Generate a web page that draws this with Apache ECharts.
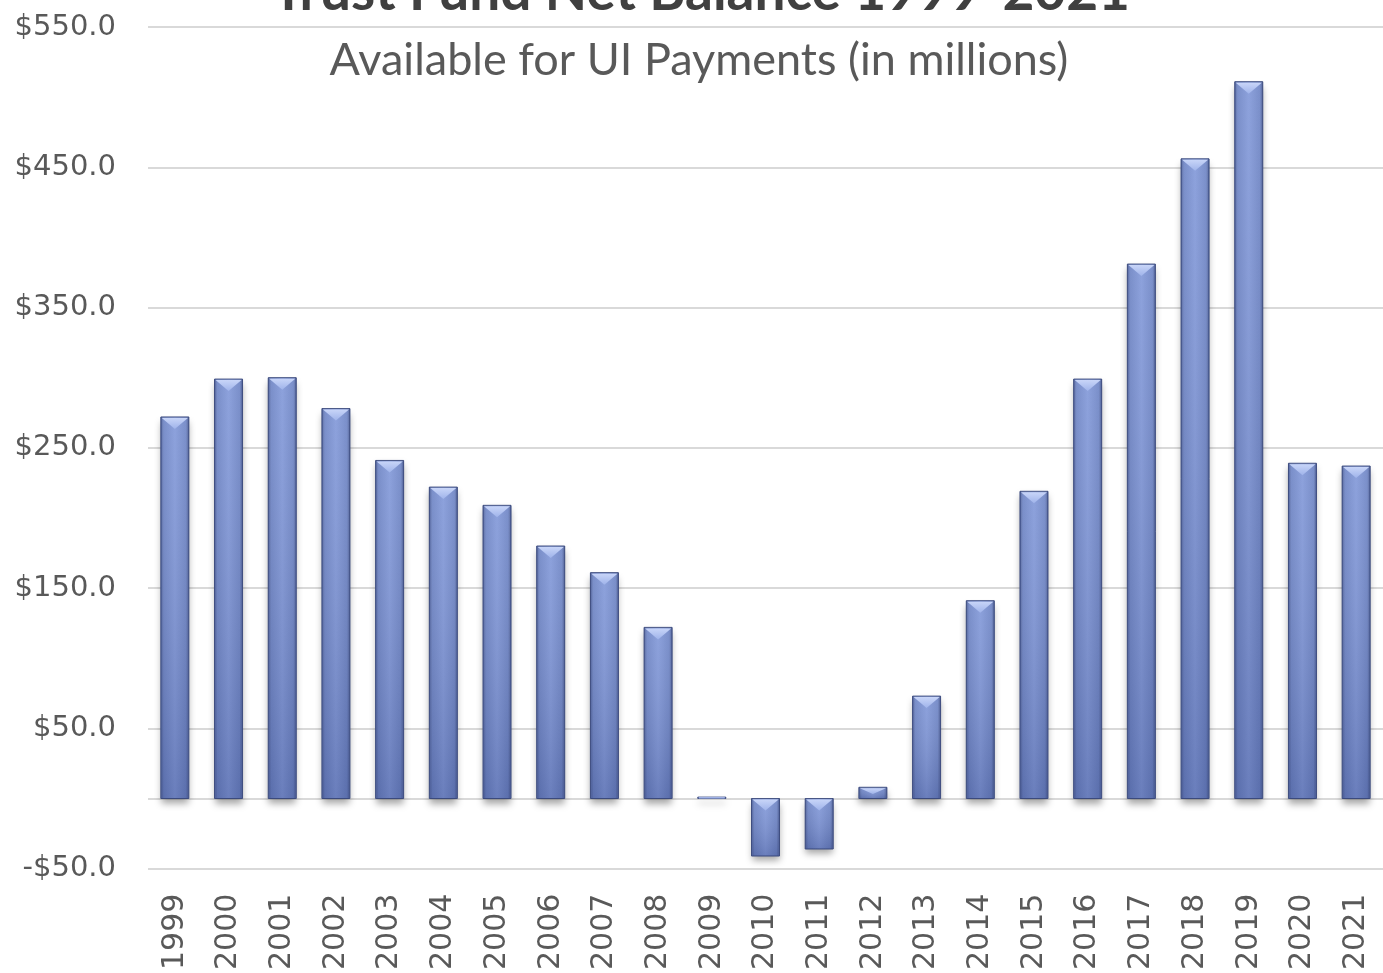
<!DOCTYPE html>
<html><head><meta charset="utf-8">
<script src="https://cdn.jsdelivr.net/npm/echarts@6/dist/echarts.min.js"></script>
<style>html,body{margin:0;padding:0;background:#fff}#c{width:1383px;height:973px}</style>
</head><body><div id="c"></div>
<script>
const titleText = "Trust Fund Net Balance 1999-2021";
const subtitleText = "Available for UI Payments (in millions)";
const years = ["1999","2000","2001","2002","2003","2004","2005","2006","2007","2008","2009","2010","2011","2012","2013","2014","2015","2016","2017","2018","2019","2020","2021"];
const balances = [272, 299, 300, 278, 241, 222, 209, 180, 161, 122, 1, -41, -36, 8, 73, 141, 219, 299, 381, 456, 511, 239, 237];
const yTicks = [-50, 50, 150, 250, 350, 450, 550];

const chart = echarts.init(document.getElementById('c'), null, {renderer: 'canvas'});
const G = echarts.graphic;
const BAR_W = 28;

function renderBar(params, api) {
  const i = api.value(0), v = api.value(1);
  const p0 = api.coord([i, 0]);
  const p1 = api.coord([i, v]);
  const x = p0[0] - BAR_W / 2;
  const top = Math.min(p0[1], p1[1]);
  const h = Math.max(Math.abs(p1[1] - p0[1]), 1);
  const children = [];
  children.push({type: 'rect', shape: {x: x, y: top, width: BAR_W, height: h},
    style: {fill: '#8a93a8', shadowColor: 'rgba(0,0,0,0.35)', shadowBlur: 7, shadowOffsetY: 5}, z2: 0});
  children.push({type: 'rect', shape: {x: x, y: top, width: BAR_W, height: h},
    style: {fill: new G.LinearGradient(0, 0, 1, 0, [
      {offset: 0, color: '#4a5b92'}, {offset: 0.12, color: '#6c83c4'},
      {offset: 0.5, color: '#8097d8'}, {offset: 0.88, color: '#6c83c4'},
      {offset: 1, color: '#45558a'}]), stroke: '#3f4e80', lineWidth: 1}, z2: 1});
  children.push({type: 'rect', shape: {x: x + 1, y: top, width: BAR_W - 2, height: h},
    style: {fill: new G.LinearGradient(0, 0, 0, 1, [
      {offset: 0, color: 'rgba(255,255,255,0.10)'}, {offset: 1, color: 'rgba(30,40,90,0.22)'}])}, z2: 2});
  if (h > 4) {
    const capH = Math.min(12, h * 0.6);
    children.push({type: 'polygon', shape: {points: [[x + 1, top + 1], [x + BAR_W - 1, top + 1], [x + BAR_W / 2, top + capH]]},
      style: {fill: new G.LinearGradient(0, 0, 0, 1, [
        {offset: 0, color: '#c8d5f8'}, {offset: 1, color: '#9fb3ea'}])}, z2: 3});
  } else {
    children.push({type: 'rect', shape: {x: x + 1, y: top, width: BAR_W - 2, height: h},
      style: {fill: '#a9bbee'}, z2: 3});
  }
  return {type: 'group', children: children};
}

chart.setOption({
  animation: false,
  graphic: [
    {type: 'text', x: 701, y: -35, z: 100, style: {text: titleText, textAlign: 'center', font: 'bold 55px Lato, "Open Sans", sans-serif', fill: '#404040'}},
    {type: 'text', x: 699, y: 38, z: 100, style: {text: subtitleText, textAlign: 'center', font: '45px Lato, "Open Sans", sans-serif', fill: '#595959'}}
  ],
  grid: {left: 148, right: 0, top: 27, bottom: 100, containLabel: false},
  xAxis: {
    type: 'category', data: years,
    axisLine: {show: false, onZero: false}, axisTick: {show: false},
    axisLabel: {rotate: 90, margin: 25, fontFamily: 'DejaVu Sans', fontSize: 30, color: '#595959'}
  },
  yAxis: {
    type: 'value', min: yTicks[0], max: yTicks[yTicks.length - 1], interval: 100,
    axisLine: {show: false}, axisTick: {show: false},
    axisLabel: {margin: 32, fontFamily: 'DejaVu Sans', fontSize: 29, color: '#595959',
      formatter: v => (v < 0 ? '-$' : '$') + Math.abs(v).toFixed(1)},
    splitLine: {lineStyle: {color: '#d9d9d9', width: 2}}
  },
  series: [{
    type: 'custom', renderItem: renderBar,
    encode: {x: 0, y: 1},
    data: balances.map((v, i) => [i, v]),
    markLine: {silent: true, symbol: 'none', label: {show: false}, z: 0,
      lineStyle: {color: '#d9d9d9', width: 2, type: 'solid'}, data: [{yAxis: 0}]}
  }]
});
</script></body></html>
